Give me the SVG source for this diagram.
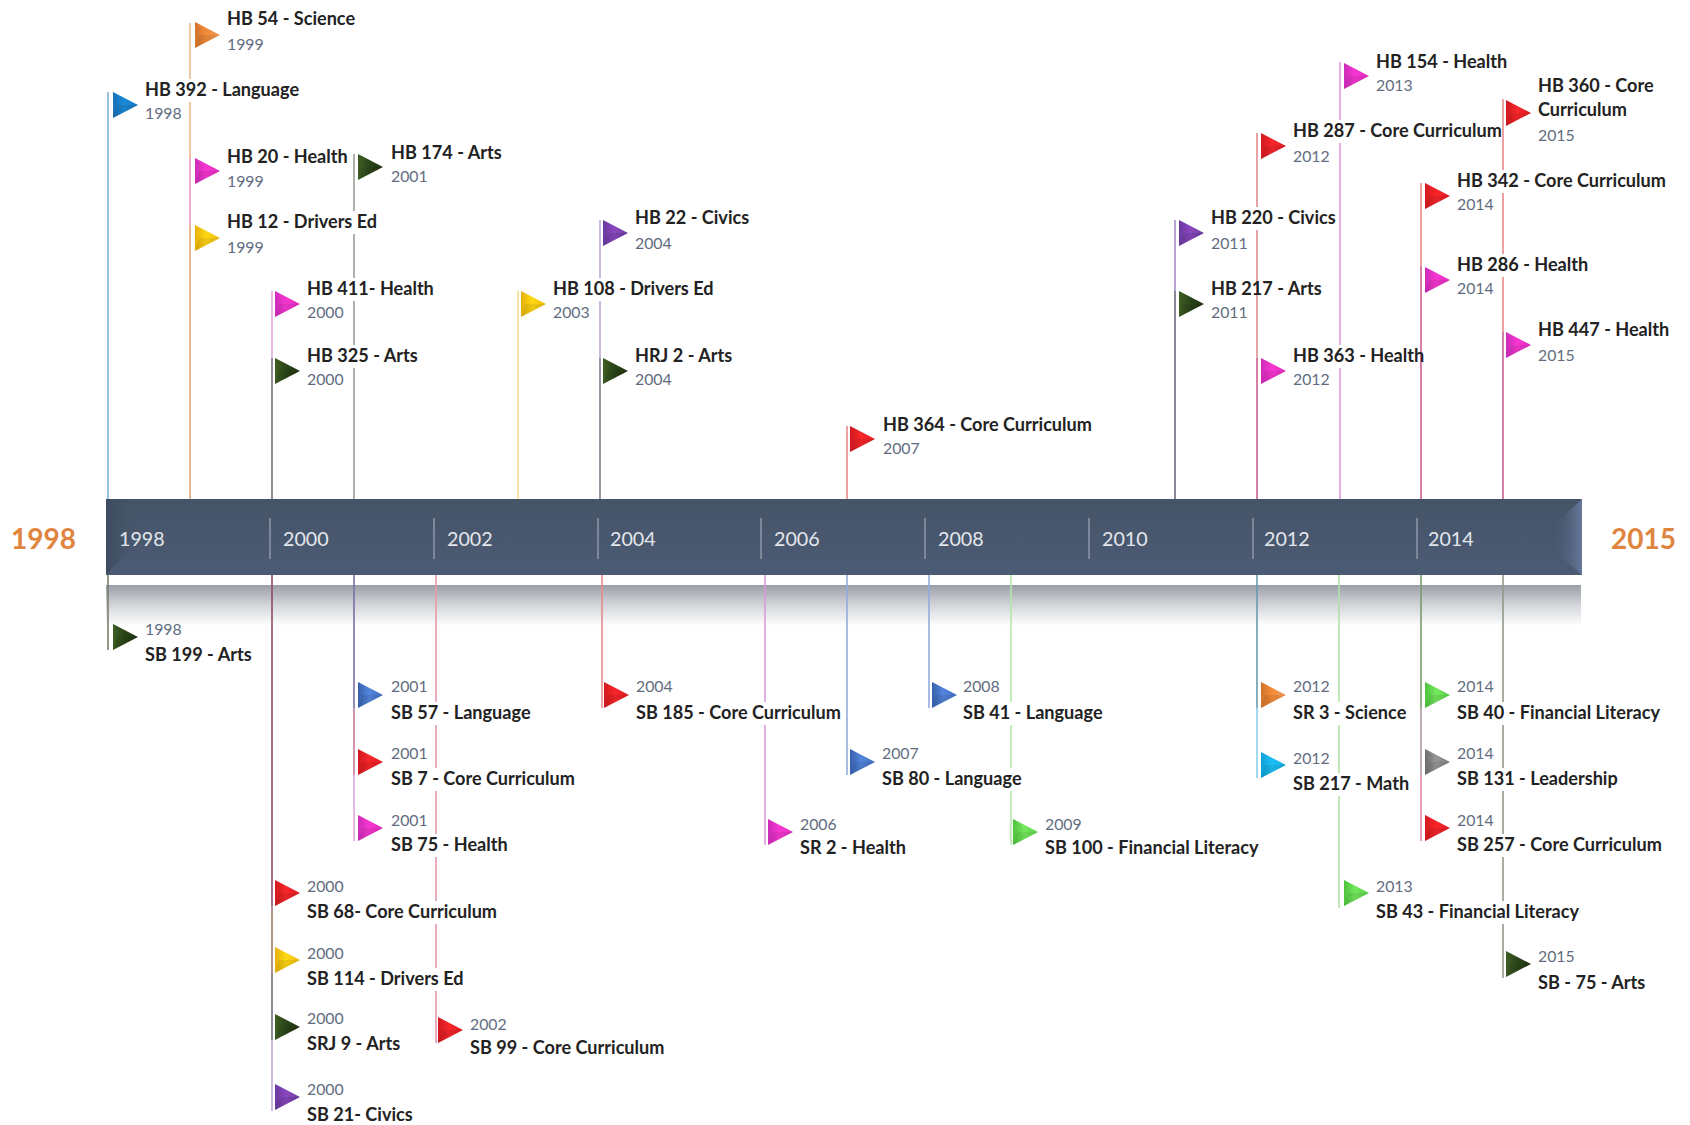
<svg xmlns="http://www.w3.org/2000/svg" width="1690" height="1125" viewBox="0 0 1690 1125">
<style>
text{font-family:Lato,"Liberation Sans",sans-serif}
.t{font-size:18.1px;font-weight:700;fill:#222}
.y{font-size:15.8px;fill:#5f6c80}
.m{fill:#fff}
.b{font-size:19.7px;fill:#e4e7ec}
.e{font-size:28px;font-weight:700;fill:#e0853f}
.tick{stroke:#8e99a8;stroke-width:1.5}
#connectors line{stroke-width:1.6;fill:none}
.orange{fill:url(#gOrange)}.blue{fill:url(#gBlue)}.pink{fill:url(#gPink)}.yellow{fill:url(#gYellow)}.dark{fill:url(#gDark)}.purple{fill:url(#gPurple)}.red{fill:url(#gRed)}.mid{fill:url(#gMid)}.green{fill:url(#gGreen)}.cyan{fill:url(#gCyan)}.gray{fill:url(#gGray)}
</style>
<defs>
<linearGradient id="gOrange" x1="0" y1="0" x2="1" y2="0"><stop offset="0" stop-color="#d0742c"/><stop offset=".45" stop-color="#f48c3a"/><stop offset="1" stop-color="#ee9a5a"/></linearGradient>
<linearGradient id="gBlue" x1="0" y1="0" x2="1" y2="0"><stop offset="0" stop-color="#1b6fb5"/><stop offset=".45" stop-color="#1a8ad8"/><stop offset="1" stop-color="#1573bb"/></linearGradient>
<linearGradient id="gPink" x1="0" y1="0" x2="1" y2="0"><stop offset="0" stop-color="#cc2cb8"/><stop offset=".45" stop-color="#f836d2"/><stop offset="1" stop-color="#e02cbc"/></linearGradient>
<linearGradient id="gYellow" x1="0" y1="0" x2="1" y2="0"><stop offset="0" stop-color="#e6b00c"/><stop offset=".45" stop-color="#ffd812"/><stop offset="1" stop-color="#eeba0e"/></linearGradient>
<linearGradient id="gDark" x1="0" y1="0" x2="1" y2="0"><stop offset="0" stop-color="#3f5e24"/><stop offset=".45" stop-color="#2a4418"/><stop offset="1" stop-color="#1f3312"/></linearGradient>
<linearGradient id="gPurple" x1="0" y1="0" x2="1" y2="0"><stop offset="0" stop-color="#6a3a9e"/><stop offset=".45" stop-color="#8a48bf"/><stop offset="1" stop-color="#6a3aa0"/></linearGradient>
<linearGradient id="gRed" x1="0" y1="0" x2="1" y2="0"><stop offset="0" stop-color="#d01a20"/><stop offset=".45" stop-color="#f8262a"/><stop offset="1" stop-color="#dc1c22"/></linearGradient>
<linearGradient id="gMid" x1="0" y1="0" x2="1" y2="0"><stop offset="0" stop-color="#3860ad"/><stop offset=".45" stop-color="#5386dc"/><stop offset="1" stop-color="#3f6cc0"/></linearGradient>
<linearGradient id="gGreen" x1="0" y1="0" x2="1" y2="0"><stop offset="0" stop-color="#4cc23e"/><stop offset=".45" stop-color="#74e85c"/><stop offset="1" stop-color="#58d048"/></linearGradient>
<linearGradient id="gCyan" x1="0" y1="0" x2="1" y2="0"><stop offset="0" stop-color="#10a0d8"/><stop offset=".45" stop-color="#1cc0f4"/><stop offset="1" stop-color="#14a8e0"/></linearGradient>
<linearGradient id="gGray" x1="0" y1="0" x2="1" y2="0"><stop offset="0" stop-color="#6e6e6e"/><stop offset=".45" stop-color="#979797"/><stop offset="1" stop-color="#7c7c7c"/></linearGradient>
<linearGradient id="gBar" x1="0" y1="0" x2="0" y2="1"><stop offset="0" stop-color="#465468"/><stop offset="1" stop-color="#4b5b74"/></linearGradient>
<linearGradient id="gRefl" x1="0" y1="0" x2="0" y2="1"><stop offset="0" stop-color="#9a9ea8"/><stop offset=".5" stop-color="#d4d6da"/><stop offset="1" stop-color="#ffffff"/></linearGradient>
<linearGradient id="gEnd" x1="0" y1="0" x2="1" y2="0"><stop offset="0" stop-color="#4a5a72" stop-opacity="0"/><stop offset="1" stop-color="#66789c"/></linearGradient>
<linearGradient id="gLeft" x1="0" y1="0" x2="1" y2="0"><stop offset="0" stop-color="#3f4d60"/><stop offset="1" stop-color="#3f4d60" stop-opacity="0"/></linearGradient>
<g id="flag"><polygon points="0,-13 25,0 0,13"/><polygon points="0,13 25,0 4,0" fill="#000" opacity=".07"/></g>
</defs>

<g id="timeline-bar">
<rect x="106" y="585" width="1475" height="41" fill="url(#gRefl)"/>
<rect x="106" y="499" width="1476" height="76" fill="url(#gBar)"/>
<polygon points="106,499 106,575 132,546 132,499" fill="url(#gLeft)"/>
<polygon points="1582,499 1582,575 1553,550 1553,526" fill="url(#gEnd)"/>
<line class="tick" x1="270" y1="518" x2="270" y2="559"/>
<line class="tick" x1="434" y1="518" x2="434" y2="559"/>
<line class="tick" x1="598" y1="518" x2="598" y2="559"/>
<line class="tick" x1="761" y1="518" x2="761" y2="559"/>
<line class="tick" x1="925" y1="518" x2="925" y2="559"/>
<line class="tick" x1="1089" y1="518" x2="1089" y2="559"/>
<line class="tick" x1="1253" y1="518" x2="1253" y2="559"/>
<line class="tick" x1="1417" y1="518" x2="1417" y2="559"/>
<text class="b" x="119" y="546">1998</text>
<text class="b" x="283" y="546">2000</text>
<text class="b" x="447" y="546">2002</text>
<text class="b" x="610" y="546">2004</text>
<text class="b" x="774" y="546">2006</text>
<text class="b" x="938" y="546">2008</text>
<text class="b" x="1102" y="546">2010</text>
<text class="b" x="1264" y="546">2012</text>
<text class="b" x="1428" y="546">2014</text>
<text class="e" x="11" y="549">1998</text>
<text class="e" x="1611" y="549">2015</text>
</g>

<g id="connectors">
<line x1="108" y1="92" x2="108" y2="499" stroke="#7fb3d8"/>
<line x1="190" y1="23" x2="190" y2="158" stroke="#eab98e"/>
<line x1="190" y1="158" x2="190" y2="225" stroke="#e89ac4"/>
<line x1="190" y1="225" x2="190" y2="499" stroke="#dfa878"/>
<line x1="272" y1="291" x2="272" y2="358" stroke="#e6a6df"/>
<line x1="272" y1="358" x2="272" y2="499" stroke="#7a6f80"/>
<line x1="354" y1="154" x2="354" y2="499" stroke="#9a9f96"/>
<line x1="518" y1="291" x2="518" y2="499" stroke="#f6dc8c"/>
<line x1="600" y1="220" x2="600" y2="358" stroke="#bfa6d8"/>
<line x1="600" y1="358" x2="600" y2="499" stroke="#7e7a8c"/>
<line x1="847" y1="426" x2="847" y2="499" stroke="#e88a8c"/>
<line x1="1175" y1="220" x2="1175" y2="291" stroke="#a78cc8"/>
<line x1="1175" y1="291" x2="1175" y2="499" stroke="#6f6a7e"/>
<line x1="1257" y1="133" x2="1257" y2="358" stroke="#e28c90"/>
<line x1="1257" y1="358" x2="1257" y2="499" stroke="#cc5f90"/>
<line x1="1340" y1="62" x2="1340" y2="499" stroke="#dc9ad8"/>
<line x1="1421" y1="183" x2="1421" y2="266" stroke="#e88a8c"/>
<line x1="1421" y1="266" x2="1421" y2="499" stroke="#cc5f90"/>
<line x1="1503" y1="99" x2="1503" y2="332" stroke="#e88a8c"/>
<line x1="1503" y1="332" x2="1503" y2="499" stroke="#cc5f90"/>
<line x1="108" y1="575" x2="108" y2="650" stroke="#7a7f70"/>
<line x1="272" y1="575" x2="272" y2="906" stroke="#8f4a68"/>
<line x1="272" y1="906" x2="272" y2="973" stroke="#a07a70"/>
<line x1="272" y1="973" x2="272" y2="1040" stroke="#707080"/>
<line x1="272" y1="1040" x2="272" y2="1111" stroke="#c0a6d8"/>
<line x1="354" y1="575" x2="354" y2="708" stroke="#7b6fa8"/>
<line x1="354" y1="708" x2="354" y2="775" stroke="#c87a9a"/>
<line x1="354" y1="775" x2="354" y2="841" stroke="#e0a8e0"/>
<line x1="436" y1="575" x2="436" y2="1043" stroke="#e49aa8"/>
<line x1="602" y1="575" x2="602" y2="708" stroke="#e88a8c"/>
<line x1="765" y1="575" x2="765" y2="845" stroke="#dc9ad8"/>
<line x1="847" y1="575" x2="847" y2="775" stroke="#92acdc"/>
<line x1="929" y1="575" x2="929" y2="708" stroke="#92acdc"/>
<line x1="1011" y1="575" x2="1011" y2="845" stroke="#b4e8aa"/>
<line x1="1257" y1="575" x2="1257" y2="708" stroke="#6a9ab0"/>
<line x1="1257" y1="708" x2="1257" y2="778" stroke="#8cd0ec"/>
<line x1="1339" y1="575" x2="1339" y2="908" stroke="#b4e0aa"/>
<line x1="1421" y1="575" x2="1421" y2="708" stroke="#7a9a70"/>
<line x1="1421" y1="708" x2="1421" y2="775" stroke="#b09a9a"/>
<line x1="1421" y1="775" x2="1421" y2="841" stroke="#e08aa0"/>
<line x1="1503" y1="575" x2="1503" y2="978" stroke="#8f9a88"/>
</g>

<g id="hb392"><rect class="m" x="145" y="79" width="154" height="23"/><use href="#flag" x="113" y="105" class="blue"/><text class="t" x="145" y="96">HB 392 - Language</text><text class="y" x="145" y="119">1998</text></g>
<g id="hb54"><use href="#flag" x="195" y="35" class="orange"/><text class="t" x="227" y="25">HB 54 - Science</text><text class="y" x="227" y="50">1999</text></g>
<g id="hb20"><rect class="m" x="227" y="146" width="121" height="23"/><use href="#flag" x="195" y="171" class="pink"/><text class="t" x="227" y="163">HB 20 - Health</text><text class="y" x="227" y="187">1999</text></g>
<g id="hb12"><rect class="m" x="227" y="211" width="149" height="23"/><use href="#flag" x="195" y="238" class="yellow"/><text class="t" x="227" y="228">HB 12 - Drivers Ed</text><text class="y" x="227" y="253">1999</text></g>
<g id="hb174"><use href="#flag" x="358" y="167" class="dark"/><text class="t" x="391" y="159">HB 174 - Arts</text><text class="y" x="391" y="182">2001</text></g>
<g id="hb411"><rect class="m" x="307" y="278" width="125" height="23"/><use href="#flag" x="275" y="304" class="pink"/><text class="t" x="307" y="295">HB 411- Health</text><text class="y" x="307" y="318">2000</text></g>
<g id="hb325"><rect class="m" x="307" y="345" width="110" height="23"/><use href="#flag" x="275" y="371" class="dark"/><text class="t" x="307" y="362">HB 325 - Arts</text><text class="y" x="307" y="385">2000</text></g>
<g id="hb108"><rect class="m" x="553" y="278" width="158" height="23"/><use href="#flag" x="521" y="304" class="yellow"/><text class="t" x="553" y="295">HB 108 - Drivers Ed</text><text class="y" x="553" y="318">2003</text></g>
<g id="hb22"><use href="#flag" x="603" y="233" class="purple"/><text class="t" x="635" y="224">HB 22 - Civics</text><text class="y" x="635" y="249">2004</text></g>
<g id="hrj2"><use href="#flag" x="603" y="371" class="dark"/><text class="t" x="635" y="362">HRJ 2 - Arts</text><text class="y" x="635" y="385">2004</text></g>
<g id="hb364"><use href="#flag" x="850" y="439" class="red"/><text class="t" x="883" y="431">HB 364 - Core Curriculum</text><text class="y" x="883" y="454">2007</text></g>
<g id="hb220"><rect class="m" x="1211" y="207" width="124" height="23"/><use href="#flag" x="1179" y="233" class="purple"/><text class="t" x="1211" y="224">HB 220 - Civics</text><text class="y" x="1211" y="249">2011</text></g>
<g id="hb217"><use href="#flag" x="1179" y="304" class="dark"/><text class="t" x="1211" y="295">HB 217 - Arts</text><text class="y" x="1211" y="318">2011</text></g>
<g id="hb287"><rect class="m" x="1293" y="120" width="209" height="23"/><use href="#flag" x="1261" y="146" class="red"/><text class="t" x="1293" y="137">HB 287 - Core Curriculum</text><text class="y" x="1293" y="162">2012</text></g>
<g id="hb363"><rect class="m" x="1293" y="345" width="127" height="23"/><use href="#flag" x="1261" y="371" class="pink"/><text class="t" x="1293" y="362">HB 363 - Health</text><text class="y" x="1293" y="385">2012</text></g>
<g id="hb154"><use href="#flag" x="1344" y="76" class="pink"/><text class="t" x="1376" y="68">HB 154 - Health</text><text class="y" x="1376" y="91">2013</text></g>
<g id="hb342"><rect class="m" x="1457" y="170" width="210" height="23"/><use href="#flag" x="1425" y="196" class="red"/><text class="t" x="1457" y="187">HB 342 - Core Curriculum</text><text class="y" x="1457" y="210">2014</text></g>
<g id="hb286"><rect class="m" x="1457" y="254" width="130" height="23"/><use href="#flag" x="1425" y="280" class="pink"/><text class="t" x="1457" y="271">HB 286 - Health</text><text class="y" x="1457" y="294">2014</text></g>
<g id="hb360"><use href="#flag" x="1506" y="113" class="red"/><text class="t" x="1538" y="92">HB 360 - Core</text><text class="t" x="1538" y="116">Curriculum</text><text class="y" x="1538" y="141">2015</text></g>
<g id="hb447"><use href="#flag" x="1506" y="345" class="pink"/><text class="t" x="1538" y="336">HB 447 - Health</text><text class="y" x="1538" y="361">2015</text></g>

<g id="sb199"><use href="#flag" x="113" y="637" class="dark"/><text class="y" x="145" y="635">1998</text><text class="t" x="145" y="661">SB 199 - Arts</text></g>
<g id="sb57"><rect class="m" x="391" y="702" width="139" height="23"/><use href="#flag" x="358" y="695" class="mid"/><text class="y" x="391" y="692">2001</text><text class="t" x="391" y="719">SB 57 - Language</text></g>
<g id="sb7"><rect class="m" x="391" y="768" width="190" height="23"/><use href="#flag" x="358" y="762" class="red"/><text class="y" x="391" y="759">2001</text><text class="t" x="391" y="785">SB 7 - Core Curriculum</text></g>
<g id="sb75"><rect class="m" x="391" y="834" width="117" height="23"/><use href="#flag" x="358" y="828" class="pink"/><text class="y" x="391" y="826">2001</text><text class="t" x="391" y="851">SB 75 - Health</text></g>
<g id="sb68"><rect class="m" x="307" y="901" width="195" height="23"/><use href="#flag" x="275" y="893" class="red"/><text class="y" x="307" y="892">2000</text><text class="t" x="307" y="918">SB 68- Core Curriculum</text></g>
<g id="sb114"><rect class="m" x="307" y="968" width="156" height="23"/><use href="#flag" x="275" y="960" class="yellow"/><text class="y" x="307" y="959">2000</text><text class="t" x="307" y="985">SB 114 - Drivers Ed</text></g>
<g id="srj9"><use href="#flag" x="275" y="1027" class="dark"/><text class="y" x="307" y="1024">2000</text><text class="t" x="307" y="1050">SRJ 9 - Arts</text></g>
<g id="sb21"><use href="#flag" x="275" y="1097" class="purple"/><text class="y" x="307" y="1095">2000</text><text class="t" x="307" y="1121">SB 21- Civics</text></g>
<g id="sb99"><use href="#flag" x="438" y="1030" class="red"/><text class="y" x="470" y="1030">2002</text><text class="t" x="470" y="1054">SB 99 - Core Curriculum</text></g>
<g id="sb185"><rect class="m" x="636" y="702" width="208" height="23"/><use href="#flag" x="604" y="695" class="red"/><text class="y" x="636" y="692">2004</text><text class="t" x="636" y="719">SB 185 - Core Curriculum</text></g>
<g id="sr2"><use href="#flag" x="768" y="832" class="pink"/><text class="y" x="800" y="830">2006</text><text class="t" x="800" y="854">SR 2 - Health</text></g>
<g id="sb80"><rect class="m" x="882" y="768" width="140" height="23"/><use href="#flag" x="850" y="762" class="mid"/><text class="y" x="882" y="759">2007</text><text class="t" x="882" y="785">SB 80 - Language</text></g>
<g id="sb41"><rect class="m" x="963" y="702" width="140" height="23"/><use href="#flag" x="932" y="695" class="mid"/><text class="y" x="963" y="692">2008</text><text class="t" x="963" y="719">SB 41 - Language</text></g>
<g id="sb100"><use href="#flag" x="1013" y="832" class="green"/><text class="y" x="1045" y="830">2009</text><text class="t" x="1045" y="854">SB 100 - Financial Literacy</text></g>
<g id="sr3"><rect class="m" x="1293" y="702" width="114" height="23"/><use href="#flag" x="1261" y="695" class="orange"/><text class="y" x="1293" y="692">2012</text><text class="t" x="1293" y="719">SR 3 - Science</text></g>
<g id="sb217"><rect class="m" x="1293" y="773" width="118" height="23"/><use href="#flag" x="1261" y="765" class="cyan"/><text class="y" x="1293" y="764">2012</text><text class="t" x="1293" y="790">SB 217 - Math</text></g>
<g id="sb43"><rect class="m" x="1375" y="901" width="205" height="23"/><use href="#flag" x="1344" y="893" class="green"/><text class="y" x="1376" y="892">2013</text><text class="t" x="1376" y="918">SB 43 - Financial Literacy</text></g>
<g id="sb40"><rect class="m" x="1457" y="702" width="207" height="23"/><use href="#flag" x="1425" y="695" class="green"/><text class="y" x="1457" y="692">2014</text><text class="t" x="1457" y="719">SB 40 - Financial Literacy</text></g>
<g id="sb131"><rect class="m" x="1457" y="768" width="164" height="23"/><use href="#flag" x="1425" y="762" class="gray"/><text class="y" x="1457" y="759">2014</text><text class="t" x="1457" y="785">SB 131 - Leadership</text></g>
<g id="sb257"><rect class="m" x="1457" y="834" width="208" height="23"/><use href="#flag" x="1425" y="828" class="red"/><text class="y" x="1457" y="826">2014</text><text class="t" x="1457" y="851">SB 257 - Core Curriculum</text></g>
<g id="sb-75"><use href="#flag" x="1506" y="964" class="dark"/><text class="y" x="1538" y="962">2015</text><text class="t" x="1538" y="989">SB - 75 - Arts</text></g>
</svg>
